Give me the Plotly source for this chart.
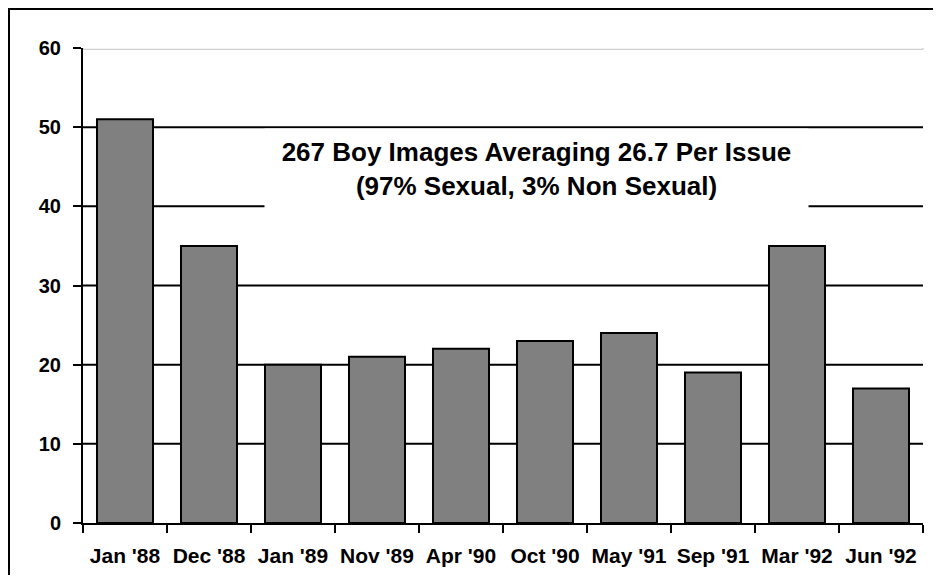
import plotly.graph_objects as go

categories = ["Jan '88", "Dec '88", "Jan '89", "Nov '89", "Apr '90",
              "Oct '90", "May '91", "Sep '91", "Mar '92", "Jun '92"]
images = [51, 35, 20, 21, 22, 23, 24, 19, 35, 17]
y_ticks = [0, 10, 20, 30, 40, 50, 60]
grid_black = [10, 20, 30, 40, 50]
grid_top = 60
note = "267 Boy Images Averaging 26.7 Per Issue<br>(97% Sexual, 3% Non Sexual)"

OFF = 8  # page body offset
W, H = 941 - 2 * OFF, 583 - 2 * OFF
PLOT_L, PLOT_R, PLOT_T, PLOT_B = 83, 923, 48, 523  # page pixels
L, T = PLOT_L - OFF, PLOT_T - OFF
R = W - (PLOT_R - OFF)
B = H - (PLOT_B - OFF)
pw, ph = W - L - R, H - T - B

def px_x(p):
    return (p - OFF - L) / pw

def px_y(p):
    return (H - B - (p - OFF)) / ph

FONT = "Liberation Sans, Arial, sans-serif"

fig = go.Figure()
fig.add_trace(go.Bar(
    x=categories, y=images,
    marker=dict(color="#808080", line=dict(color="black", width=2)),
    hoverinfo="x+y",
))

shapes = []
for v in grid_black:
    shapes.append(dict(type="line", xref="paper", yref="y", x0=0, x1=1, y0=v, y1=v,
                       line=dict(color="black", width=2), layer="below"))
shapes.append(dict(type="rect", xref="paper", yref="y", ysizemode="pixel", yanchor=grid_top,
                   x0=0, x1=1, y0=-1.3, y1=1.3, fillcolor="white",
                   line=dict(color="#c4c4c4", width=1), layer="below"))
# figure frame (right and bottom edges fall outside the canvas)
shapes.append(dict(type="rect", xref="paper", yref="paper",
                   x0=px_x(9), x1=px_x(960), y0=px_y(600), y1=px_y(9),
                   line=dict(color="black", width=2), fillcolor="rgba(0,0,0,0)"))

fig.update_layout(
    width=W, height=H,
    margin=dict(l=L, r=R, t=T, b=B, autoexpand=False),
    paper_bgcolor="white", plot_bgcolor="white",
    showlegend=False,
    bargap=0.333,
    font=dict(family=FONT, color="black"),
    shapes=shapes,
    xaxis=dict(type="category", showline=True, linecolor="black", linewidth=2,
               ticks="outside", tickson="boundaries", ticklen=8, tickwidth=2,
               tickcolor="black", showgrid=False, tickangle=0,
               tickfont=dict(family=FONT, size=21, weight=700, color="black"),
               ticklabelstandoff=13),
    yaxis=dict(range=[0, 60], tickvals=y_ticks, showline=True, linecolor="black",
               linewidth=2, ticks="outside", ticklen=8, tickwidth=2, tickcolor="black",
               showgrid=False, zeroline=False,
               tickfont=dict(family=FONT, size=20, weight=700, color="black"),
               ticklabelstandoff=8),
    annotations=[dict(
        text=note, xref="paper", yref="paper",
        x=px_x(536), y=px_y(169), xanchor="center", yanchor="middle",
        showarrow=False, align="center",
        font=dict(family=FONT, size=26, weight=700, color="black"),
        bgcolor="white", width=531, height=68, borderpad=6,
    )],
)

fig.write_html("out.html")
